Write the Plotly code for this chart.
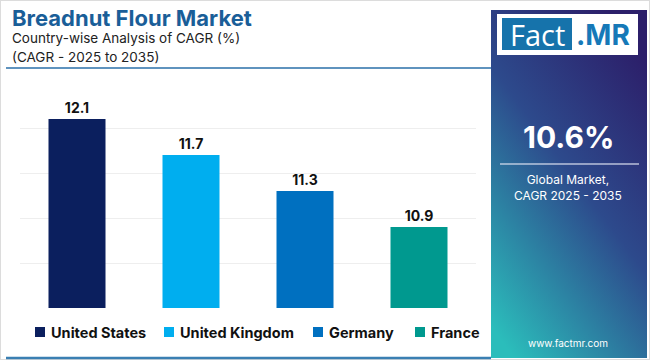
import base64
import plotly.graph_objects as go

# ---- data ----
countries = ["United States", "United Kingdom", "Germany", "France"]
cagr_values = [12.1, 11.7, 11.3, 10.9]
bar_colors = ["#0b1f5e", "#00aeef", "#0070c0", "#00998f"]
y_ticks = [10.0, 10.5, 11.0, 11.5, 12.0, 12.5]
global_cagr = "10.6%"

W, H = 650, 360

def px_x(v):
    return v / W

def px_y(v):
    return 1 - v / H

fig = go.Figure()
for name, val, col in zip(countries, cagr_values, bar_colors):
    fig.add_trace(go.Bar(
        x=[name], y=[val], name=name, marker=dict(color=col, line=dict(width=0)),
        width=0.5, text=[f"{val:.1f}"], textposition="outside",
        textfont=dict(family="Inter, sans-serif", size=14, color="#111111", weight="bold"),
        cliponaxis=False, showlegend=False,
    ))

# gradient panel as SVG data URI
svg = (
    '<svg xmlns="http://www.w3.org/2000/svg" width="156" height="348" viewBox="0 0 156 348">'
    '<defs><linearGradient id="g" x1="0.75" y1="0" x2="0.15" y2="1">'
    '<stop offset="0" stop-color="#2c1f6a"/>'
    '<stop offset="0.45" stop-color="#2d4a8c"/>'
    '<stop offset="1" stop-color="#2bbdbb"/>'
    '</linearGradient></defs>'
    '<rect width="156" height="348" fill="url(#g)"/></svg>'
)
src = "data:image/svg+xml;base64," + base64.b64encode(svg.encode()).decode()

fig.update_layout(
    width=W, height=H,
    margin=dict(l=0, r=0, t=0, b=0),
    paper_bgcolor="white", plot_bgcolor="white",
    barmode="overlay",
    showlegend=False,
    xaxis=dict(domain=[px_x(20), px_x(476)], showticklabels=False, showgrid=False,
               zeroline=False, showline=False, ticks=""),
    yaxis=dict(domain=[px_y(308), px_y(83)], range=[10, 12.5], tickvals=y_ticks,
               showticklabels=False, showgrid=True, gridcolor="#eeeeee", gridwidth=1,
               zeroline=False, showline=False, ticks=""),
    images=[dict(source=src, xref="paper", yref="paper", x=px_x(491), y=px_y(10),
                 sizex=156 / W, sizey=348 / H, xanchor="left", yanchor="top",
                 sizing="stretch", layer="below")],
)

shapes = [
    # outer border
    dict(type="rect", xref="paper", yref="paper", x0=0, y0=0, x1=1, y1=1,
         line=dict(color="#dcdcdc", width=2), fillcolor="rgba(0,0,0,0)"),
    # title underline
    dict(type="line", xref="paper", yref="paper", x0=px_x(6), x1=px_x(491), y0=px_y(68), y1=px_y(68),
         line=dict(color="#2a6fa8", width=1.5)),
    # bottom line
    dict(type="line", xref="paper", yref="paper", x0=px_x(6), x1=px_x(491), y0=px_y(358), y1=px_y(358),
         line=dict(color="#3a7fb2", width=2.5)),
    # logo white box
    dict(type="rect", xref="paper", yref="paper", x0=px_x(497), x1=px_x(638), y0=px_y(55), y1=px_y(14),
         fillcolor="white", line=dict(width=0)),
    dict(type="rect", xref="paper", yref="paper", x0=px_x(502), x1=px_x(572), y0=px_y(50), y1=px_y(18),
         fillcolor="#1673ab", line=dict(width=0)),
    # divider in panel
    dict(type="line", xref="paper", yref="paper", x0=px_x(500), x1=px_x(639), y0=px_y(164), y1=px_y(164),
         line=dict(color="rgba(220,225,240,0.8)", width=1.5)),
]

ann = [
    dict(text="Breadnut Flour Market", x=px_x(10), y=px_y(18), xanchor="left", yanchor="middle",
         font=dict(family="Inter, sans-serif", size=22, color="#1a5e98", weight="bold")),
    dict(text="Country-wise Analysis of CAGR (%)", x=px_x(10), y=px_y(38), xanchor="left", yanchor="middle",
         font=dict(family="Inter, sans-serif", size=13.5, color="#222222")),
    dict(text="(CAGR - 2025 to 2035)", x=px_x(10), y=px_y(57), xanchor="left", yanchor="middle",
         font=dict(family="Inter, sans-serif", size=13.5, color="#222222")),
    dict(text="Fact", x=px_x(537), y=px_y(35), xanchor="center", yanchor="middle",
         font=dict(family="Open Sans, sans-serif", size=29, color="white")),
    dict(text=".MR", x=px_x(603), y=px_y(35), xanchor="center", yanchor="middle",
         font=dict(family="Inter, sans-serif", size=28, color="#1679b8", weight="bold")),
    dict(text=global_cagr, x=px_x(568), y=px_y(137), xanchor="center", yanchor="middle",
         font=dict(family="Inter, sans-serif", size=30, color="white", weight="bold")),
    dict(text="Global Market,<br>CAGR 2025 - 2035", x=px_x(568), y=px_y(187), xanchor="center",
         yanchor="middle", font=dict(family="Inter, sans-serif", size=12, color="white")),
    dict(text="www.factmr.com", x=px_x(568), y=px_y(343), xanchor="center", yanchor="middle",
         font=dict(family="Inter, sans-serif", size=10, color="white")),
]

# legend (drawn to match the reference's compact spacing)
legend_sq_x = [35, 164, 313, 415]
for name, col, sx in zip(countries, bar_colors, legend_sq_x):
    shapes.append(dict(type="rect", xref="paper", yref="paper", x0=px_x(sx), x1=px_x(sx + 10),
                       y0=px_y(337), y1=px_y(327), fillcolor=col, line=dict(width=0)))
    ann.append(dict(text=name, x=px_x(sx + 14), y=px_y(332), xanchor="left", yanchor="middle",
                    font=dict(family="Inter, sans-serif", size=14.5, color="#111111", weight="bold")))

for a in ann:
    a.update(xref="paper", yref="paper", showarrow=False)
fig.update_layout(shapes=shapes, annotations=ann)

fig.write_html("out.html", config={"displayModeBar": False},
               post_script="document.body.style.margin='0px';")
